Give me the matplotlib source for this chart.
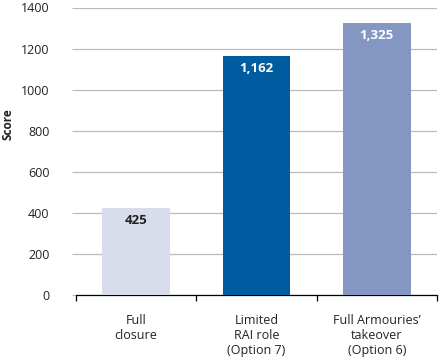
import matplotlib
matplotlib.use("Agg")
import matplotlib.pyplot as plt
from matplotlib.ticker import FixedLocator

plt.rcParams['font.family'] = ['Open Sans', 'DejaVu Sans']

categories = ["Full\nclosure", "Limited\nRAI role\n(Option 7)", "Full Armouries\u2019\ntakeover\n(Option 6)"]
values = [425, 1162, 1325]
value_labels = ["425", "1,162", "1,325"]
colors = ["#D9DCEA", "#005BA0", "#8497C3"]
label_colors = ["#222222", "white", "white"]
yticks = [0, 200, 400, 600, 800, 1000, 1200, 1400]

fig = plt.figure(figsize=(4.43, 3.6), dpi=100)
ax = fig.add_axes([76/443, 65/360, (437-76)/443, (295-7.5)/360])

x = list(range(len(categories)))
ax.bar(x, values, width=0.56, color=colors, zorder=3)

ax.set_xlim(-0.5, len(categories) - 0.5)
ax.set_ylim(0, 1400)
ax.set_yticks(yticks)
ax.set_yticklabels([str(t) for t in yticks], fontsize=9, color="#222222")
ax.yaxis.grid(True, color="#BBBBBB", linewidth=0.9, zorder=0)
ax.tick_params(axis='y', length=3, color="#BBBBBB", pad=16)

ax.set_xticks(x)
ax.set_xticklabels(categories, fontsize=9, color="#222222", linespacing=1.2)
ax.tick_params(axis='x', which='major', length=0, pad=14)
ax.xaxis.set_minor_locator(FixedLocator([-0.5, 0.5, 1.5, 2.5]))
ax.tick_params(axis='x', which='minor', length=4, direction='out', color='black', width=0.9)

for s in ['top', 'right', 'left']:
    ax.spines[s].set_visible(False)
ax.spines['bottom'].set_color('black')
ax.spines['bottom'].set_linewidth(0.9)

fig.text(8.5/443, 1 - 124/360, "Score", rotation=90, ha='center', va='center',
         fontsize=8.5, fontweight='bold', color="#222222")

for xi, v, lab, lc in zip(x, values, value_labels, label_colors):
    ax.annotate(lab, xy=(xi, v), xytext=(0, -6), textcoords='offset pixels',
                ha='center', va='top', fontsize=9.5, fontweight='bold', color=lc, zorder=4)

fig.savefig("out.png", dpi=100)
